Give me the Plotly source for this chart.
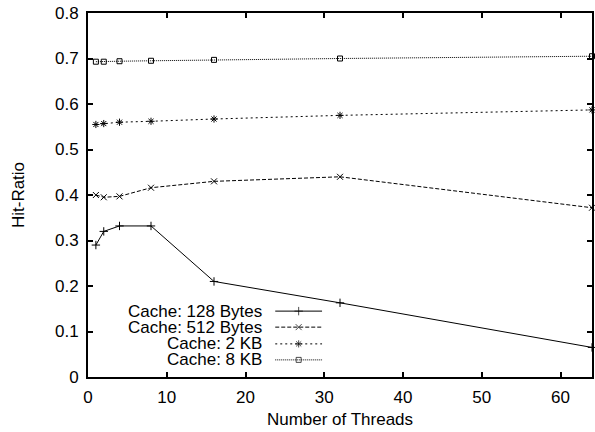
import plotly.graph_objects as go

threads = [1, 2, 4, 8, 16, 32, 64]
hit_128b = [0.290, 0.320, 0.332, 0.332, 0.210, 0.163, 0.065]
hit_512b = [0.400, 0.395, 0.397, 0.416, 0.430, 0.440, 0.372]
hit_2kb = [0.555, 0.557, 0.560, 0.562, 0.567, 0.575, 0.587]
hit_8kb = [0.693, 0.693, 0.694, 0.695, 0.697, 0.700, 0.705]

series = [
    ("Cache: 128 Bytes", hit_128b, "solid", "cross-thin-open", 6),
    ("Cache: 512 Bytes", hit_512b, "4px,2px", "x-thin-open", 6),
    ("Cache: 2 KB", hit_2kb, "2px,3px", "asterisk-open", 6),
    ("Cache: 8 KB", hit_8kb, "1px,1px", "square-open", 5),
]

FONT = "Liberation Sans, Arial, sans-serif"
FS = 17
fig = go.Figure()

for name, vals, dash, sym, ms in series:
    fig.add_trace(go.Scatter(
        x=threads, y=vals, mode="lines+markers", name=name,
        line=dict(color="black", width=1, dash=dash),
        marker=dict(symbol=sym, size=ms, color="black",
                    line=dict(color="black", width=1)),
        showlegend=False, cliponaxis=False,
    ))

# custom gnuplot-style legend (text right, sample to the right)
leg_y = [0.181, 0.137, 0.091, 0.047]
for (name, vals, dash, sym, ms), yy in zip(series, leg_y):
    fig.add_trace(go.Scatter(
        x=[0.3715, 0.418, 0.4644], y=[yy, yy, yy], xaxis="x2", yaxis="y2",
        mode="lines+markers",
        line=dict(color="black", width=1, dash=dash),
        marker=dict(symbol=sym, size=[0, ms, 0], color="black",
                    line=dict(color="black", width=1)),
        showlegend=False, hoverinfo="skip",
    ))
    fig.add_annotation(x=0.35, y=yy, xref="paper", yref="paper", text=name,
                       showarrow=False, xanchor="right", yanchor="middle",
                       font=dict(family=FONT, size=FS, color="black"))

axis_common = dict(showline=True, linecolor="black", linewidth=2, mirror="ticks",
                   ticks="inside", ticklen=5, tickwidth=2, tickcolor="black",
                   showgrid=False, zeroline=False,
                   tickfont=dict(family=FONT, size=FS, color="black"))

fig.update_layout(
    width=595, height=432,
    margin=dict(l=88, r=1, t=13, b=55),
    paper_bgcolor="white", plot_bgcolor="white",
    xaxis=dict(range=[0, 64], dtick=10, tick0=0, ticklabelstandoff=4,
               title=dict(text="Number of Threads", standoff=7,
                          font=dict(family=FONT, size=FS, color="black")),
               **axis_common),
    yaxis=dict(range=[0, 0.8], dtick=0.1, tick0=0,
               tickformat="~g", ticklabelstandoff=4,
               title=dict(text="Hit-Ratio", standoff=26,
                          font=dict(family=FONT, size=FS, color="black")),
               **axis_common),
    xaxis2=dict(range=[0, 1], overlaying="x", visible=False, fixedrange=True),
    yaxis2=dict(range=[0, 1], overlaying="y", visible=False, fixedrange=True),
    showlegend=False,
)

fig.write_html("out.html")
